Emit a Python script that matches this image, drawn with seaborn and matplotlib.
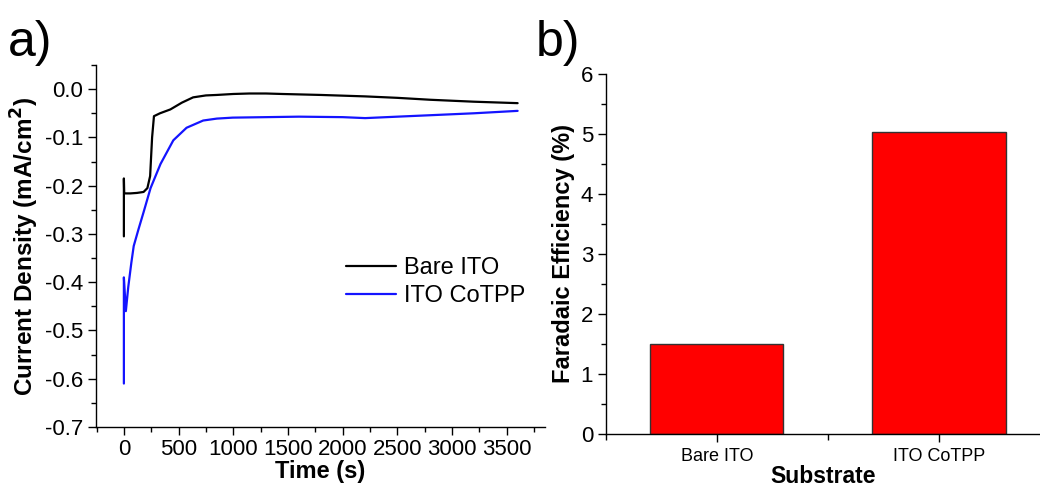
import numpy as np
import pandas as pd
import matplotlib
matplotlib.use("Agg")
import matplotlib.pyplot as plt
import seaborn as sns
from matplotlib.ticker import MultipleLocator

# ---- data ----
bare_time = [0, 0, 3, 60, 120, 180, 215, 240, 258, 275, 330, 425, 530, 633, 750, 850,
             1000, 1148, 1300, 1447, 1800, 2206, 2500, 2803, 3200, 3600]
bare_current = [-0.305, -0.185, -0.216, -0.216, -0.215, -0.213, -0.205, -0.18, -0.10, -0.056,
                -0.050, -0.042, -0.028, -0.017, -0.013, -0.012, -0.010, -0.009, -0.009,
                -0.010, -0.012, -0.015, -0.018, -0.022, -0.026, -0.029]

cotpp_time = [0, 0, 18, 40, 68, 90, 134, 180, 244, 335, 452, 573, 725, 850, 995, 1300,
              1600, 2000, 2206, 2500, 2803, 3200, 3600]
cotpp_current = [-0.61, -0.39, -0.46, -0.41, -0.36, -0.325, -0.29, -0.255, -0.205, -0.155,
                 -0.106, -0.080, -0.065, -0.061, -0.059, -0.058, -0.057, -0.058, -0.060,
                 -0.057, -0.054, -0.050, -0.045]

substrates = ["Bare ITO", "ITO CoTPP"]
efficiency = [1.5, 5.03]

# ---- style ----
sns.set_theme(style="white")
plt.rcParams["font.family"] = ["Liberation Sans", "DejaVu Sans"]
plt.rcParams["xtick.direction"] = "out"
plt.rcParams["ytick.direction"] = "out"
plt.rcParams["text.color"] = "black"
plt.rcParams["axes.labelcolor"] = "black"
plt.rcParams["xtick.color"] = "black"
plt.rcParams["ytick.color"] = "black"

fig = plt.figure(figsize=(10.4, 4.9), dpi=100)
ax1 = fig.add_axes([0.0923, 0.1286, 0.4317, 0.7387])
ax2 = fig.add_axes([0.5824, 0.1143, 0.4176, 0.7347])

df = pd.concat([
    pd.DataFrame({"Time": bare_time, "Current": bare_current, "Series": "Bare ITO"}),
    pd.DataFrame({"Time": cotpp_time, "Current": cotpp_current, "Series": "ITO CoTPP"}),
], ignore_index=True)

sns.lineplot(data=df, x="Time", y="Current", hue="Series", units="Series",
             estimator=None, sort=False, palette={"Bare ITO": "black", "ITO CoTPP": "#1414ff"},
             linewidth=1.6, ax=ax1)

ax1.set_xlim(-255, 3850)
ax1.set_ylim(-0.7, 0.05)
ax1.xaxis.set_major_locator(MultipleLocator(500))
ax1.xaxis.set_minor_locator(MultipleLocator(250))
ax1.yaxis.set_minor_locator(MultipleLocator(0.05))
yt = [round(v, 1) for v in np.arange(-0.7, 0.01, 0.1)]
ax1.set_yticks(yt)
ax1.set_yticklabels([f"{abs(v):.1f}" if abs(v) < 1e-9 else f"{v:.1f}" for v in yt])
ax1.set_xlabel("Time (s)", fontsize=17, fontweight="bold", labelpad=0)
ax1.set_ylabel("Current Density (mA/cm$^\\mathbf{2}$)", fontsize=17.5, fontweight="bold", labelpad=3)
ax1.tick_params(axis="both", which="major", labelsize=16, length=6, width=1, bottom=True, left=True, pad=3)
ax1.tick_params(axis="both", which="minor", length=3.5, width=1, bottom=True, left=True)
for s in ["top", "right"]:
    ax1.spines[s].set_visible(False)
for s in ["left", "bottom"]:
    ax1.spines[s].set_color("black")
    ax1.spines[s].set_linewidth(1)
leg = ax1.legend(title=None, frameon=False, fontsize=17, loc="center left",
                 bbox_to_anchor=(0.52, 0.40), handlelength=2.1, handletextpad=0.35,
                 borderpad=0.2, labelspacing=0.25)

# ---- bar chart ----
bdf = pd.DataFrame({"Substrate": substrates, "Efficiency": efficiency})
sns.barplot(data=bdf, x="Substrate", y="Efficiency", color="#ff0000", saturation=1,
            width=0.6, edgecolor="#333333", linewidth=1, ax=ax2)
ax2.set_xlim(-0.5, 1.455)
ax2.set_ylim(0, 6)
ax2.yaxis.set_major_locator(MultipleLocator(1))
ax2.yaxis.set_minor_locator(MultipleLocator(0.5))
ax2.xaxis.set_minor_locator(MultipleLocator(0.5))
ax2.set_xlabel("Substrate", fontsize=16.5, fontweight="bold", labelpad=0)
ax2.set_ylabel("Faradaic Efficiency (%)", fontsize=17, fontweight="bold", labelpad=4)
ax2.tick_params(axis="y", which="major", labelsize=16, length=6, width=1, left=True, pad=3)
ax2.tick_params(axis="y", which="minor", length=3.5, width=1, left=True)
ax2.tick_params(axis="x", which="major", labelsize=13, length=6, width=1, bottom=True, pad=4)
ax2.tick_params(axis="x", which="minor", length=4, width=1, bottom=True)
for s in ["top", "right"]:
    ax2.spines[s].set_visible(False)
for s in ["left", "bottom"]:
    ax2.spines[s].set_color("black")
    ax2.spines[s].set_linewidth(1)

fig.text(0.008, 0.885, "a)", fontsize=36)
fig.text(0.515, 0.885, "b)", fontsize=36)

fig.savefig("out.png", dpi=100, facecolor="white")
